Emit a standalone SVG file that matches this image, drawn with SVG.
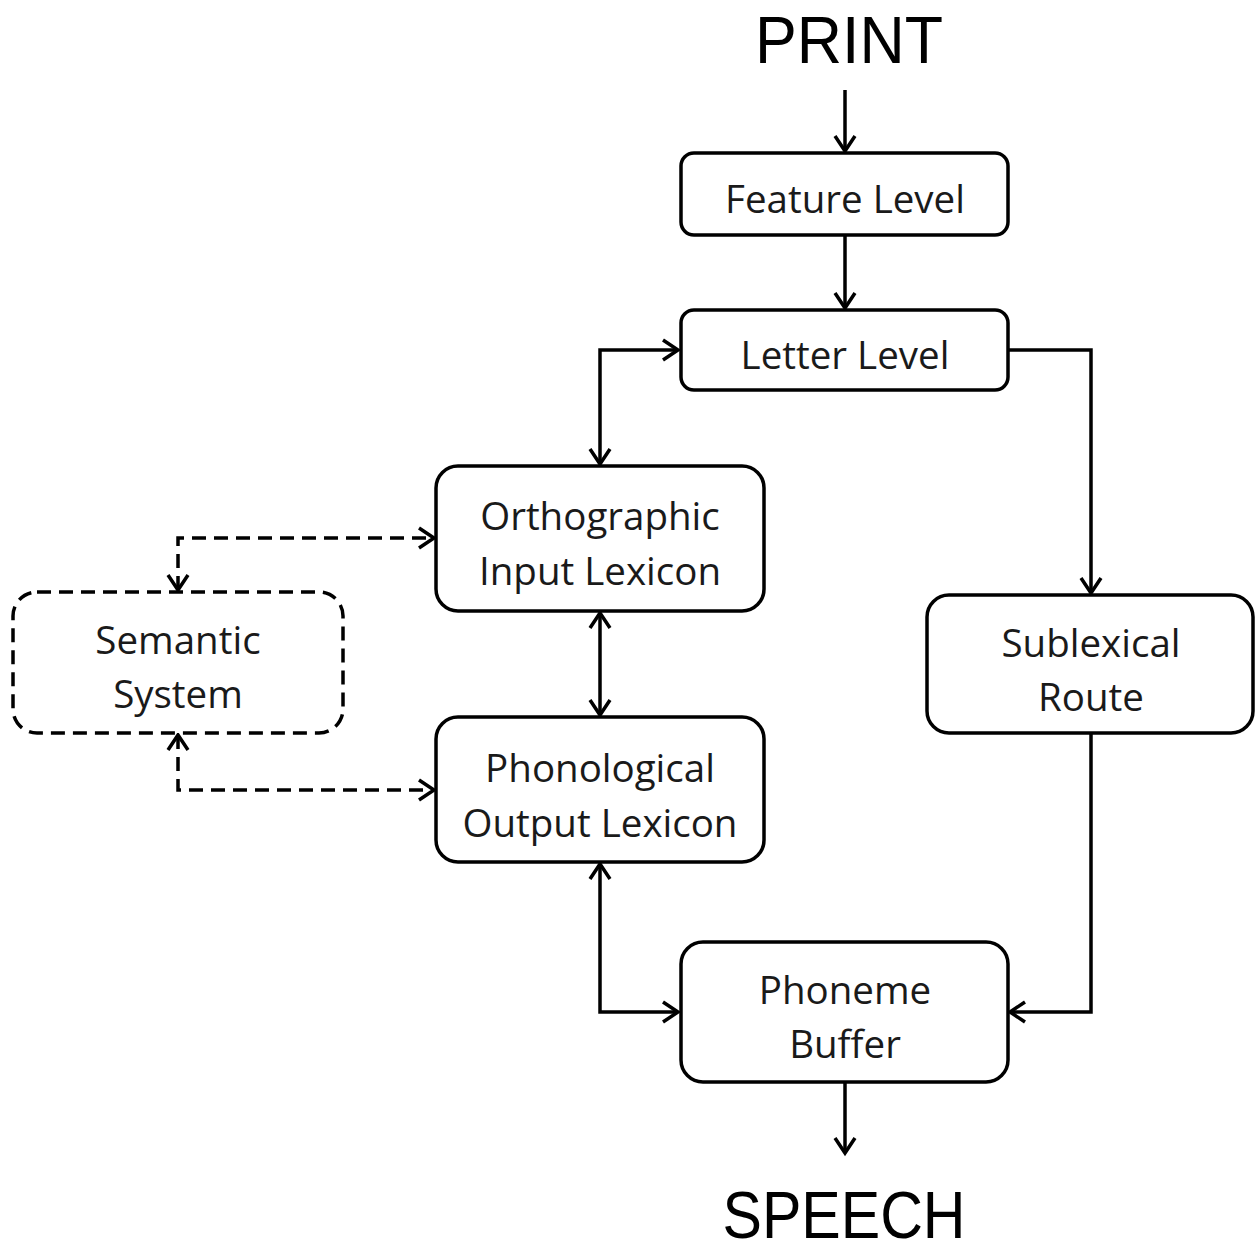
<svg xmlns="http://www.w3.org/2000/svg" width="1256" height="1252" viewBox="0 0 1256 1252">
  <style>
    .box { fill: #ffffff; stroke: #000000; stroke-width: 3.5; }
    .dashed { stroke-dasharray: 14 8; }
    .lbl { font-family: "Open Sans", "Liberation Sans", sans-serif; font-size: 38.5px; fill: #1a1a1a; text-anchor: middle; }
    .big { font-family: "Liberation Sans", "Open Sans", sans-serif; font-size: 66px; fill: #000000; text-anchor: middle; }
    .wire { fill: none; stroke: #000000; stroke-width: 3.5; }
  </style>
  <defs>
    <!-- open chevron arrowhead, reused at both ends of two-way links -->
    <marker id="head" viewBox="0 0 24 24" refX="20" refY="12" markerWidth="24" markerHeight="24" markerUnits="userSpaceOnUse" orient="auto-start-reverse">
      <path d="M5,2 L20,12 L5,22" fill="none" stroke="#000000" stroke-width="3.5" stroke-linejoin="miter"/>
    </marker>
  </defs>

  <rect width="1256" height="1252" fill="#ffffff"/>

  <!-- terminal labels -->
  <text id="print" class="big" x="849" y="63" textLength="188" lengthAdjust="spacingAndGlyphs">PRINT</text>
  <text id="speech" class="big" x="844" y="1238" textLength="243" lengthAdjust="spacingAndGlyphs">SPEECH</text>

  <!-- connectors -->
  <g id="connectors">
    <path class="wire" d="M845,90 L845,151" marker-end="url(#head)"/>
    <path class="wire" d="M845,235 L845,308" marker-end="url(#head)"/>
    <path class="wire" d="M1009,350 L1091,350 L1091,593" marker-end="url(#head)"/>
    <path class="wire" d="M1091,734 L1091,1012 L1010,1012" marker-end="url(#head)"/>
    <path class="wire" d="M845,1083 L845,1153" marker-end="url(#head)"/>
    <path class="wire" d="M600,464 L600,350 L678,350" marker-start="url(#head)" marker-end="url(#head)"/>
    <path class="wire" d="M600,613 L600,715" marker-start="url(#head)" marker-end="url(#head)"/>
    <path class="wire" d="M600,864 L600,1012 L678,1012" marker-start="url(#head)" marker-end="url(#head)"/>
    <path class="wire dashed" d="M178,590 L178,538 L434,538" marker-start="url(#head)" marker-end="url(#head)"/>
    <path class="wire dashed" d="M178,735 L178,790 L434,790" marker-start="url(#head)" marker-end="url(#head)"/>
  </g>

  <g id="feature-level">
    <rect class="box" x="681" y="153" width="327" height="82" rx="13"/>
    <text class="lbl" x="845" y="213">Feature Level</text>
  </g>

  <g id="letter-level">
    <rect class="box" x="681" y="310" width="327" height="80" rx="13"/>
    <text class="lbl" x="845" y="369">Letter Level</text>
  </g>

  <g id="orthographic-input-lexicon">
    <rect class="box" x="436" y="466" width="328" height="145" rx="22"/>
    <text class="lbl" x="600" y="530">Orthographic</text>
    <text class="lbl" x="600" y="585">Input Lexicon</text>
  </g>

  <g id="phonological-output-lexicon">
    <rect class="box" x="436" y="717" width="328" height="145" rx="22"/>
    <text class="lbl" x="600" y="782">Phonological</text>
    <text class="lbl" x="600" y="837">Output Lexicon</text>
  </g>

  <g id="semantic-system">
    <rect class="box dashed" x="13" y="592" width="330" height="141" rx="24"/>
    <text class="lbl" x="178" y="654">Semantic</text>
    <text class="lbl" x="178" y="708">System</text>
  </g>

  <g id="sublexical-route">
    <rect class="box" x="927" y="595" width="326" height="138" rx="22"/>
    <text class="lbl" x="1091" y="657">Sublexical</text>
    <text class="lbl" x="1091" y="711">Route</text>
  </g>

  <g id="phoneme-buffer">
    <rect class="box" x="681" y="942" width="327" height="140" rx="22"/>
    <text class="lbl" x="845" y="1004">Phoneme</text>
    <text class="lbl" x="845" y="1058">Buffer</text>
  </g>
</svg>
